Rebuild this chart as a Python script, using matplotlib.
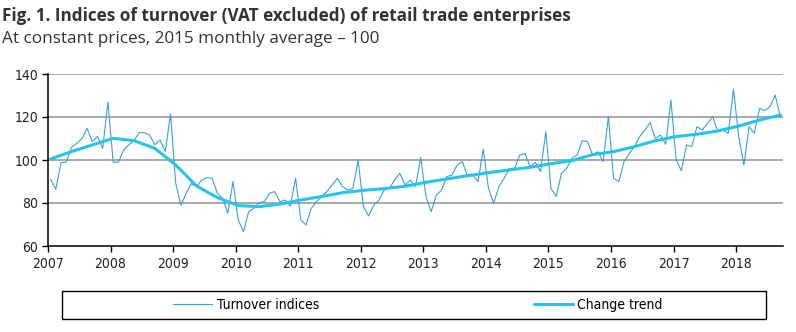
import numpy as np
import matplotlib
matplotlib.use("Agg")
import matplotlib.pyplot as plt
from matplotlib.patches import Rectangle
from matplotlib import font_manager

# monthly turnover indices, Jan 2007 .. Sep 2018
turnover = [
    91.0, 86.4, 98.8, 99.0, 106.0, 107.7, 110.0, 114.7, 108.5, 111.0, 105.4, 127.0,   # 2007
    99.0, 99.0, 104.6, 107.0, 109.0, 112.7, 112.7, 111.6, 107.0, 109.3, 103.9, 121.5, # 2008
    89.2, 79.0, 84.5, 89.0, 87.6, 90.7, 91.8, 91.5, 84.5, 82.2, 75.2, 90.0,           # 2009
    72.0, 66.7, 76.0, 77.5, 80.2, 80.6, 84.5, 85.3, 80.6, 81.4, 78.5, 91.5,           # 2010
    72.1, 69.8, 77.5, 80.6, 83.0, 85.3, 88.4, 91.5, 87.6, 86.0, 86.8, 100.0,          # 2011
    78.3, 74.0, 79.0, 81.4, 86.0, 86.8, 90.7, 93.8, 88.4, 90.7, 87.6, 101.2,          # 2012
    83.0, 76.0, 83.7, 86.0, 92.3, 93.0, 97.7, 99.2, 92.3, 92.8, 90.0, 105.1,          # 2013
    86.8, 79.9, 87.6, 91.5, 96.1, 96.0, 102.3, 103.0, 96.9, 98.9, 94.6, 113.2,        # 2014
    86.8, 83.0, 93.8, 96.1, 100.8, 102.3, 109.0, 108.5, 102.3, 103.9, 99.2, 120.2,    # 2015
    91.5, 90.0, 99.2, 103.0, 106.2, 110.9, 114.0, 117.4, 110.1, 111.6, 107.3, 127.9,  # 2016
    100.0, 95.0, 107.0, 106.2, 115.5, 114.0, 117.0, 120.2, 113.2, 114.0, 112.4, 132.9, # 2017
    110.9, 97.7, 115.5, 112.4, 124.0, 123.0, 124.8, 130.2, 120.0,                     # 2018
]

# change trend, read every 4th month (month index 0, 4, ..., 140)
trend_month = list(range(0, 141, 4))
trend = [
    100.5, 103.9, 107.0, 110.1, 109.0, 105.4, 97.7, 87.9, 82.5,
    78.8, 78.3, 79.5, 81.4, 83.0, 84.8, 85.9, 86.7, 87.8,
    89.6, 91.2, 92.7, 94.1, 95.4, 96.6, 98.3, 99.7, 102.5,
    103.9, 106.2, 109.0, 110.9, 112.0, 113.5, 115.8, 118.6, 120.9,
]

years = list(range(2007, 2019))
y_ticks = [60, 80, 100, 120, 140]

c_index = "#3aa0d8"
c_trend = "#25c3ee"

x_turn = 2007 + (np.arange(len(turnover)) + 0.5) / 12
x_trend = 2007 + (np.array(trend_month) + 0.5) / 12

narrow = font_manager.FontProperties(family="DejaVu Sans", stretch="condensed", size=10)

fig = plt.figure(figsize=(7.96, 3.32), dpi=100)
ax = fig.add_axes([48 / 796, 86 / 332, 735 / 796, 172 / 332])

for v in y_ticks[1:]:
    ax.axhline(v, color="#999999", lw=1.2, zorder=1)

l1, = ax.plot(x_turn, turnover, color=c_index, lw=0.8, zorder=3)
l2, = ax.plot(x_trend, trend, color=c_trend, lw=2.2, zorder=4, solid_capstyle="round")

ax.set_xlim(2007, 2007 + 141 / 12)
ax.set_ylim(60, 140)
ax.set_xticks(years)
ax.set_xticklabels([str(y) for y in years], fontproperties=narrow)
ax.set_yticks(y_ticks)
ax.set_yticklabels([str(v) for v in y_ticks], fontproperties=narrow)
ax.tick_params(axis="both", direction="out", length=4, width=1, color="black", labelcolor="#222222")
ax.tick_params(axis="x", pad=4)
ax.tick_params(axis="y", pad=3)

ax.spines["top"].set_visible(False)
ax.spines["right"].set_visible(False)
ax.spines["left"].set_linewidth(1.1)
ax.spines["bottom"].set_linewidth(1.1)

# titles
fig.text(2 / 796, 1 - 16 / 332, "Fig. 1. Indices of turnover (VAT excluded) of retail trade enterprises",
         family=["Open Sans", "DejaVu Sans"], fontweight="bold", fontsize=12.3, color="#333333", va="center")
fig.text(2 / 796, 1 - 39 / 332, "At constant prices, 2015 monthly average \u2013 100",
         family=["Open Sans", "DejaVu Sans"], fontsize=12.3, color="#333333", va="center")

# legend with its own box
fig.patches.append(Rectangle((62 / 796, 13 / 332), 704 / 796, 28 / 332, transform=fig.transFigure,
                             fill=False, edgecolor="black", lw=1))
fig.legend([l1, l2], ["Turnover indices", "Change trend"], loc="center",
           bbox_to_anchor=(418 / 796, 27 / 332), ncol=2, frameon=False,
           prop=narrow, handlelength=2.8, handletextpad=0.3,
           columnspacing=15.5)

fig.savefig("out.png", dpi=100)
